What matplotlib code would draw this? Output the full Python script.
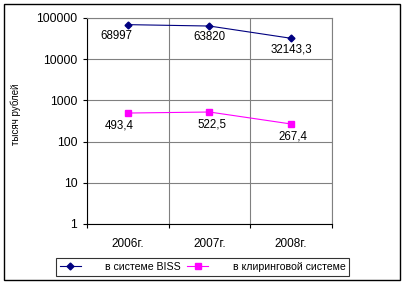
import matplotlib.pyplot as plt
from matplotlib.patches import Rectangle

plt.rcParams['font.family'] = ['Liberation Sans', 'DejaVu Sans']

years = ['2006г.', '2007г.', '2008г.']
biss = [68997, 63820, 32143.3]
biss_labels = ['68997', '63820', '32143,3']
clearing = [493.4, 522.5, 267.4]
clearing_labels = ['493,4', '522,5', '267,4']
yticks = [1, 10, 100, 1000, 10000, 100000]

fig = plt.figure(figsize=(4.06, 2.83), dpi=100)
ax = fig.add_axes([87/406, 1-224/283, 245/406, 206/283])

x = list(range(len(years)))
ax.plot(x, biss, color='#000080', marker='D', markersize=3.5, linewidth=0.8,
        label='в системе BISS')
ax.plot(x, clearing, color='#FF00FF', marker='s', markersize=4.5, linewidth=0.8,
        label='в клиринговой системе')

# подписи значений
dx = [-11, 0, 0]
for i in x:
    ax.annotate(biss_labels[i], (i, biss[i]), xytext=(dx[i], -11), textcoords='offset pixels',
                ha='center', va='center', fontsize=8.3)
    ax.annotate(clearing_labels[i], (i, clearing[i]), xytext=(dx[i] + 2, -12), textcoords='offset pixels',
                ha='center', va='center', fontsize=8.3)

ax.set_yscale('log')
ax.set_ylim(1, 100000)
ax.set_yticks(yticks)
ax.set_yticklabels([str(v) for v in yticks])
ax.minorticks_off()
ax.set_xlim(-0.5, 2.5)
ax.set_xticks([-0.5, 0.5, 1.5, 2.5])
ax.set_xticklabels([])
ax.set_xticks(x, minor=True)
ax.set_xticklabels(years, minor=True)
ax.tick_params(axis='x', which='minor', length=0, pad=10, labelsize=8.5)
ax.tick_params(axis='x', which='major', length=3, width=0.8, direction='out')
ax.tick_params(axis='y', length=3, width=0.8, direction='out', pad=4, labelsize=8.7)

ax.grid(True, which='major', color='#808080', linewidth=0.8)
ax.set_axisbelow(True)
for s in ['top', 'right']:
    ax.spines[s].set_color('#808080')
    ax.spines[s].set_linewidth(0.8)
for s in ['left', 'bottom']:
    ax.spines[s].set_color('black')
    ax.spines[s].set_linewidth(0.8)

ax.set_ylabel('тысяч рублей', fontsize=7)
ax.yaxis.set_label_coords(-0.27, 0.534)

leg = fig.legend(loc='center', bbox_to_anchor=(202.5/406, 1-267/283), ncol=2,
                 fontsize=7.6, frameon=True, fancybox=False, edgecolor='black',
                 handlelength=2.0, handletextpad=2.3, columnspacing=0.6,
                 borderpad=0.35, borderaxespad=0)
leg.get_frame().set_linewidth(0.8)

fig.patches.append(Rectangle((4/406, 1-280/283), 396/406, 276/283, transform=fig.transFigure,
                             fill=False, edgecolor='black', linewidth=1))

fig.savefig('out.png', dpi=100)
